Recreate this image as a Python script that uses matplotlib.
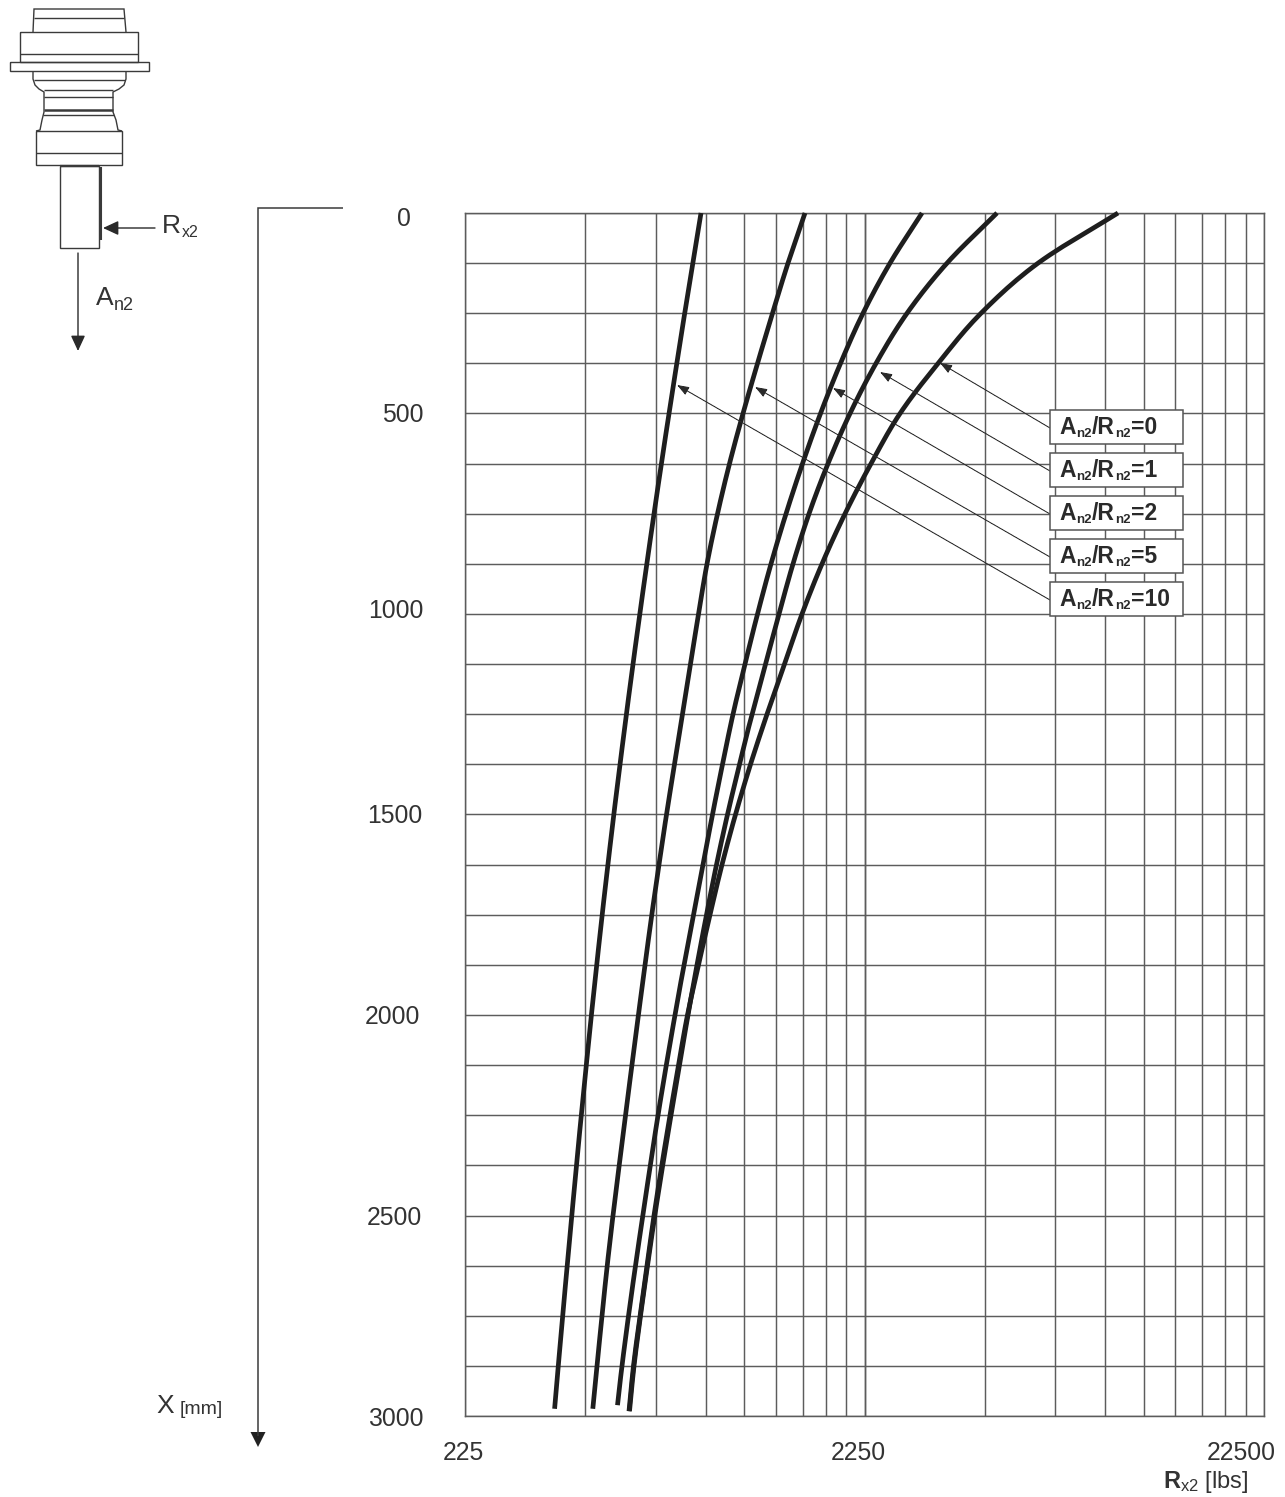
import numpy as np
import matplotlib
matplotlib.use('Agg')
import matplotlib.pyplot as plt
from matplotlib.transforms import ScaledTranslation
from matplotlib.patches import Rectangle

plt.rcParams['font.family'] = ['Liberation Sans', 'DejaVu Sans']
plt.rcParams['mathtext.fontset'] = 'custom'
plt.rcParams['mathtext.rm'] = 'Liberation Sans'
plt.rcParams['mathtext.it'] = 'Liberation Sans'
plt.rcParams['mathtext.bf'] = 'Liberation Sans:bold'

# ---------- data ----------
depth_grid = [125 * k for k in range(24)]
depth_mm_10 = depth_grid + [2982]
depth_mm_5 = depth_grid + [2982]
depth_mm_2 = depth_grid + [2973]
depth_mm_1 = depth_grid + [2988]
depth_mm_0 = depth_grid + [2988]

rx2_ratio_10 = [876.8, 836.4, 798.2, 762.7, 729.2, 697.9, 668.8, 641.6,
                616.2, 592.5, 570.4, 549.8, 530.5, 512.7, 496.1, 480.7,
                466.2, 452.7, 439.8, 427.8, 416.4, 405.5, 395.1, 385.2, 377.1]
rx2_ratio_5 = [1596.8, 1447.7, 1324.0, 1214.4, 1117.0, 1033.4, 964.3, 907.7,
               864.3, 825.3, 788.2, 752.6, 718.7, 688.3, 660.3, 635.0,
               611.3, 588.8, 567.5, 547.2, 528.0, 510.7, 495.6, 481.5, 470.0]
rx2_ratio_2 = [3134.1, 2606.2, 2230.6, 1959.3, 1746.0, 1573.9, 1431.2, 1312.6,
               1214.4, 1129.9, 1054.4, 992.5, 936.9, 887.0, 839.7, 795.0,
               754.8, 717.9, 684.4, 654.7, 627.0, 601.1, 577.4, 556.1, 541.9]
rx2_ratio_1 = [4828.9, 3619.9, 2874.5, 2404.2, 2069.6, 1823.1, 1634.0, 1490.1,
               1374.6, 1271.7, 1176.5, 1094.7, 1021.5, 958.8, 905.1, 856.9,
               813.5, 774.6, 737.6, 703.2, 671.9, 644.2, 618.7, 596.0, 580.7]
rx2_ratio_0 = [9699.0, 6118.0, 4403.0, 3438.0, 2760.9, 2335.9, 2010.8, 1761.2,
               1569.4, 1418.8, 1282.7, 1166.3, 1069.7, 989.7, 923.5, 864.3,
               811.2, 770.2, 733.4, 699.5, 668.8, 642.3, 616.9, 594.2, 579.0]

x_major = [225, 2250, 22500]
x_labels = ['225', '2250', '22500']
x_grid = [m * b for b in (225, 2250) for m in range(1, 11)]
y_major = [0, 500, 1000, 1500, 2000, 2500, 3000]
y_grid = [125 * k for k in range(25)]
legend_labels = ['0', '1', '2', '5', '10']

W, H = 1285, 1497
DARK = '#2a2a2a'
GRID = '#5c5c5c'
TXT = '#333333'
fig = plt.figure(figsize=(W / 100, H / 100), dpi=100)
L, R, T, B = 465, 1264, 213, 1416
ax = fig.add_axes([L / W, 1 - B / H, (R - L) / W, (B - T) / H])
ax.set_xscale('log')
ax.set_xlim(225, 22500)
ax.set_ylim(3000, 0)
ax.set_xticks(x_major, x_labels)
ax.set_xticks([], minor=True)
ax.set_yticks(y_major)
ax.tick_params(axis='both', length=0, labelsize=17.8, labelcolor=TXT)
ax.tick_params(axis='y', pad=30.5)
ax.tick_params(axis='x', pad=18)
for v in x_grid:
    ax.axvline(v, color=GRID, lw=1.05, zorder=1)
for v in y_grid:
    ax.axhline(v, color=GRID, lw=1.05, zorder=1)
for s in ax.spines.values():
    s.set_color(GRID)
    s.set_linewidth(1.05)


def smooth(xs, ys, n=12):
    """Catmull-Rom through the read values, in log-x."""
    p = np.column_stack([np.log10(xs), ys])
    p = np.vstack([2 * p[0] - p[1], p, 2 * p[-1] - p[-2]])
    t = np.linspace(0, 1, n, endpoint=False)[:, None]
    out = []
    for i in range(1, len(p) - 2):
        a, b, c, d = p[i - 1], p[i], p[i + 1], p[i + 2]
        out.append(0.5 * (2 * b + (c - a) * t + (2 * a - 5 * b + 4 * c - d) * t ** 2
                          + (3 * b - a - 3 * c + d) * t ** 3))
    out.append(p[-2][None, :])
    out = np.vstack(out)
    return 10 ** out[:, 0], out[:, 1]


for xs, ys in [(rx2_ratio_10, depth_mm_10), (rx2_ratio_5, depth_mm_5),
               (rx2_ratio_2, depth_mm_2), (rx2_ratio_1, depth_mm_1),
               (rx2_ratio_0, depth_mm_0)]:
    sx, sy = smooth(xs, ys)
    ax.plot(sx, sy, color='#1e1e1e', lw=3.4, solid_capstyle='butt',
            solid_joinstyle='round', zorder=3, clip_on=False)


def nudge(lab, dx, dy):
    lab.set_transform(lab.get_transform() + ScaledTranslation(dx / 100, -dy / 100, fig.dpi_scale_trans))


for lab, (dx, dy) in zip(ax.get_yticklabels(), [(-12, 4), (1, -1), (1, -5), (0, -1), (-3, 0), (-1, 0), (1, 1)]):
    nudge(lab, dx, dy)
for lab, (dx, dy) in zip(ax.get_xticklabels(), [(-2, 0), (-6, 0), (-23, 0)]):
    nudge(lab, dx, dy)

# ---------- overlay in image pixels ----------
ov = fig.add_axes([0, 0, 1, 1], facecolor='none', zorder=5)
ov.set_xlim(0, W)
ov.set_ylim(H, 0)
ov.axis('off')
rend = fig.canvas.get_renderer()


def line(xs, ys, lw=1.0, c='#3a3a3a'):
    ov.plot(xs, ys, color=c, lw=lw, solid_capstyle='butt', solid_joinstyle='miter')


def arrow(x0, y0, x1, y1, lw=0.9, style='-|>,head_length=0.67,head_width=0.31', ms=14, ls='-'):
    ov.annotate('', xy=(x1, y1), xytext=(x0, y0),
                arrowprops=dict(arrowstyle=style, mutation_scale=ms, lw=lw, color=DARK,
                                shrinkA=0, shrinkB=0, ls=ls))


def runs(x, y, parts, color=TXT, weight='normal', zorder=7):
    """Consecutive text runs: (string, size, drop in px)."""
    for s, size, drop in parts:
        t = ov.text(x, y + drop, s, fontsize=size, color=color, fontweight=weight,
                    va='baseline', ha='left', zorder=zorder)
        x += t.get_window_extent(rend).width + 0.5


# axis labels
ax.set_xlabel(r'$\mathbf{R}_{\mathrm{x2}}$ [lbs]', fontsize=17, color=TXT, va='center')
ax.xaxis.set_label_coords((1206 - L) / (R - L), (B - 1482) / (B - T))
ax.set_ylabel('X', fontsize=19, color=TXT, rotation=0, ha='center', va='center')
ax.yaxis.set_label_coords((165 - L) / (R - L), (B - 1406) / (B - T))
ov.text(180, 1409, '[mm]', fontsize=14, color=TXT, va='center', ha='left')

# depth axis
line([343, 258, 258], [208, 208, 1436], lw=1.1)
ov.fill([250.5, 265.5, 258], [1432, 1432, 1447], color='#222222', lw=0)


# component sketch
def poly(pts, lw=1.0):
    xs, ys = zip(*pts)
    line(xs, ys, lw=lw)


def r(x0, y0, x1, y1, lw=1.0):
    poly([(x0, y0), (x1, y0), (x1, y1), (x0, y1), (x0, y0)], lw)


poly([(33, 32), (34, 9), (124, 9), (126, 32)])
line([34, 124], [18, 18])
r(20, 32, 138, 62)
line([20, 138], [54, 54])
r(9.5, 62, 149, 71)
poly([(33, 71), (33, 79), (35, 85), (39, 89), (44, 92), (44, 112), (42, 120), (40, 130), (36, 131)])
poly([(126, 71), (126, 79), (124, 85), (119, 89), (113, 92), (113, 112), (116, 120), (118, 130), (122, 131)])
line([34, 125], [80, 80])
line([44, 113], [90, 90])
line([44, 113], [97, 97])
line([44, 113], [109.5, 109.5], lw=1.8)
line([43, 114], [115, 115])
r(36, 131, 122, 165)
line([36, 122], [153, 153])
r(60, 166, 99, 248)
line([100.5, 100.5], [167, 240], lw=1.5)
line([60, 99], [166, 166], lw=1.6)
arrow(155, 228, 103, 228, lw=1.0)
arrow(78, 253, 78, 351, lw=1.0)
runs(162, 233, [('R', 19, 0), ('x2', 11.5, 4)])
runs(96, 305, [('A', 19, 0), ('n2', 13, 5)])

# legend boxes + leaders
box_tops = [410, 453, 496, 539, 582]
tips = [(940, 363), (880, 372), (833, 388), (755, 387), (677, 385)]
for txt, top, tip in zip(legend_labels, box_tops, tips):
    arrow(1050, top + 18, tip[0], tip[1], lw=0.75, style='-|>,head_length=0.6,head_width=0.22',
          ms=12, ls=(0, (2.5, 0.6)))
    ov.add_patch(Rectangle((1050, top), 133, 34, fc='white', ec='#555555', lw=1.1, zorder=6))
    runs(1059, top + 24, [('A', 16.5, 0), ('n2', 9.5, 3), ('/R', 16.5, 0), ('n2', 9.5, 3), ('=' + txt, 16.5, 0)],
         color=DARK, weight='bold')

fig.savefig('out.png', dpi=100)
